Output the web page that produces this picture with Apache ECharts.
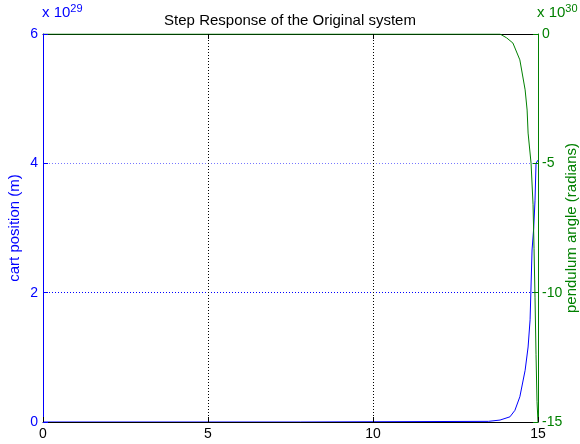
<!DOCTYPE html>
<html>
<head>
<meta charset="utf-8">
<script src="https://cdn.jsdelivr.net/npm/echarts@6/dist/echarts.min.js"></script>
<style>
  html, body { margin: 0; padding: 0; background: #fff; }
  #chart { width: 580px; height: 444px; }
</style>
</head>
<body>
<div id="chart"></div>
<script>
// Time axis ticks
const timeTicks = [0, 5, 10, 15];

// Cart position (units of 1e29 m) sampled over time (s)
const cartTime = [0, 7.8, 7.85, 13.5, 13.85, 14.15, 14.3, 14.45, 14.61, 14.70, 14.76, 14.82, 14.87, 14.91, 14.94, 15];
const cartPos  = [0, 0, 0.01, 0.01, 0.03, 0.08, 0.18, 0.39, 0.80, 1.16, 1.58, 2.66, 3.0, 3.43, 4.0, 4.05];

// Pendulum angle (units of 1e30 rad) sampled over time (s)
const angleTime = [0, 13.85, 14.05, 14.24, 14.45, 14.61, 14.67, 14.70, 14.79, 14.85, 14.88, 14.91, 14.94, 14.97, 15];
const angleVal  = [0, 0, -0.15, -0.35, -1.0, -2.16, -2.94, -3.83, -5.0, -6.6, -8.3, -10.2, -12.4, -14.2, -15];

const leftTicks = [0, 2, 4, 6];
const rightTicks = [-15, -10, -5, 0];

const BLUE = '#0000ff';
const GREEN = '#008000';
const FONT = '"Liberation Sans", Arial, sans-serif';

const cartData = cartTime.map((t, i) => [t, cartPos[i]]);
const angleData = angleTime.map((t, i) => [t, angleVal[i]]);

const chart = echarts.init(document.getElementById('chart'), null, { renderer: 'canvas' });

chart.setOption({
  animation: false,
  backgroundColor: '#fff',
  title: {
    text: 'Step Response of the Original system',
    left: 'center',
    top: 8,
    textStyle: { fontFamily: FONT, fontSize: 15, fontWeight: 'normal', color: '#000' }
  },
  grid: { left: 43, right: 42, top: 34, bottom: 22, containLabel: false, outerBoundsMode: 'none' },
  xAxis: [
    {
      type: 'value',
      min: timeTicks[0],
      max: timeTicks[timeTicks.length - 1],
      interval: 5,
      position: 'bottom',
      z: 5,
      axisLine: { show: true, onZero: false, lineStyle: { color: '#000', width: 1 } },
      axisTick: { show: true, inside: true, length: 5, lineStyle: { color: '#000' } },
      axisLabel: { color: '#000', fontFamily: FONT, fontSize: 14, margin: 5 },
      splitLine: {
        show: true,
        showMinLine: false,
        showMaxLine: false,
        lineStyle: { color: '#000', type: [1, 2], width: 1 }
      }
    },
    {
      type: 'value',
      min: timeTicks[0],
      max: timeTicks[timeTicks.length - 1],
      interval: 5,
      position: 'top',
      z: 1,
      axisLine: { show: true, onZero: false, lineStyle: { color: '#000', width: 1 } },
      axisTick: { show: true, inside: true, length: 5, lineStyle: { color: '#000' } },
      axisLabel: { show: false },
      splitLine: { show: false }
    }
  ],
  yAxis: [
    {
      type: 'value',
      min: leftTicks[0],
      max: leftTicks[leftTicks.length - 1],
      interval: 2,
      position: 'left',
      z: 5,
      name: 'cart position (m)',
      nameLocation: 'middle',
      nameRotate: 90,
      nameGap: 21,
      nameMoveOverlap: false,
      nameTextStyle: { color: BLUE, fontFamily: FONT, fontSize: 15 },
      axisLine: { show: true, onZero: false, lineStyle: { color: BLUE, width: 1 } },
      axisTick: { show: true, inside: true, length: 5, lineStyle: { color: BLUE } },
      axisLabel: { color: BLUE, fontFamily: FONT, fontSize: 14, margin: 5 },
      splitLine: {
        show: true,
        showMinLine: false,
        showMaxLine: false,
        lineStyle: { color: ['#0000ff', '#7777ff', '#3c3c80', '#000'], type: [1, 2], width: 1 }
      }
    },
    {
      type: 'value',
      min: rightTicks[0],
      max: rightTicks[rightTicks.length - 1],
      interval: 5,
      position: 'right',
      z: 5,
      name: 'pendulum angle (radians)',
      nameLocation: 'middle',
      nameRotate: 90,
      nameGap: 26,
      nameMoveOverlap: false,
      nameTextStyle: { color: GREEN, fontFamily: FONT, fontSize: 15 },
      axisLine: { show: true, onZero: false, lineStyle: { color: GREEN, width: 1 } },
      axisTick: { show: true, inside: true, length: 5, lineStyle: { color: GREEN } },
      axisLabel: { color: GREEN, fontFamily: FONT, fontSize: 14, margin: 4 },
      splitLine: { show: false }
    }
  ],
  graphic: [
    {
      type: 'text',
      left: 42,
      top: 3,
      style: {
        text: '{a|x 10}{b|29}',
        rich: {
          a: { fontFamily: FONT, fontSize: 15, fill: BLUE },
          b: { fontFamily: FONT, fontSize: 11, fill: BLUE, padding: [0, 0, 9, 0] }
        }
      }
    },
    {
      type: 'text',
      left: 537,
      top: 3,
      style: {
        text: '{a|x 10}{b|30}',
        rich: {
          a: { fontFamily: FONT, fontSize: 15, fill: GREEN },
          b: { fontFamily: FONT, fontSize: 11, fill: GREEN, padding: [0, 0, 9, 0] }
        }
      }
    }
  ],
  series: [
    {
      name: 'cart position',
      type: 'line',
      xAxisIndex: 0,
      yAxisIndex: 0,
      data: cartData,
      showSymbol: false,
      clip: true,
      z: 3,
      lineStyle: { color: BLUE, width: 1 }
    },
    {
      name: 'pendulum angle',
      type: 'line',
      xAxisIndex: 0,
      yAxisIndex: 1,
      data: angleData,
      showSymbol: false,
      clip: true,
      z: 4,
      lineStyle: { color: GREEN, width: 1 }
    }
  ]
});
</script>
</body>
</html>
